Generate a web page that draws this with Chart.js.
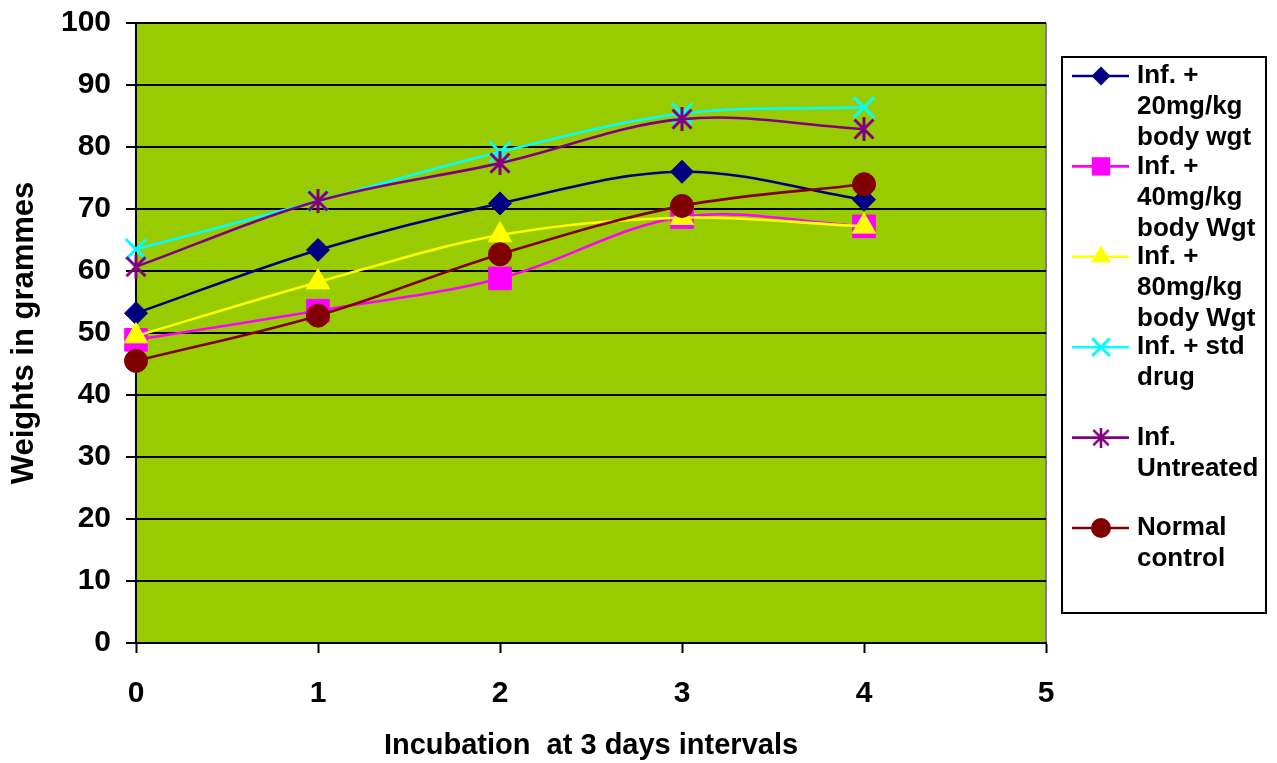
<!DOCTYPE html>
<html>
<head>
<meta charset="utf-8">
<script src="https://cdn.jsdelivr.net/npm/chart.js@4/dist/chart.umd.min.js"></script>
<style>
  html, body { margin: 0; padding: 0; background: #ffffff; }
  #wrap { width: 1277px; height: 763px; position: relative; }
</style>
</head>
<body>
<div id="wrap"><canvas id="c" width="1277" height="763"></canvas></div>
<script>
// Incubation periods (3-day intervals)
const periods = [0, 1, 2, 3, 4];

// Body weights (g) for each group
const dose20 = [53.2, 63.4, 70.9, 76.0, 71.5];
const dose40 = [48.9, 53.6, 58.8, 68.7, 67.2];
const dose80 = [49.5, 58.2, 65.8, 68.6, 67.2];
const stdDrug = [63.5, 71.3, 79.2, 85.4, 86.4];
const untreated = [60.7, 71.3, 77.4, 84.5, 82.9];
const normal = [45.5, 52.8, 62.7, 70.5, 74.0];

const seriesLabels = [
  ['Inf. +', '20mg/kg', 'body wgt'],
  ['Inf. +', '40mg/kg', 'body Wgt'],
  ['Inf. +', '80mg/kg', 'body Wgt'],
  ['Inf. + std', 'drug'],
  ['Inf.', 'Untreated'],
  ['Normal', 'control']
];

const yTicks = [0, 10, 20, 30, 40, 50, 60, 70, 80, 90, 100];
const xTicks = [0, 1, 2, 3, 4, 5];

const FONT = '"Liberation Sans", Arial, Helvetica, sans-serif';

// asterisk marker: vertical bar plus an X
function asterisk(size, color, lw) {
  const cv = document.createElement('canvas');
  cv.width = size; cv.height = size;
  const g = cv.getContext('2d');
  g.strokeStyle = color; g.lineWidth = lw;
  const m = lw / 2 + 1, s = size - m, h = size / 2;
  g.beginPath();
  g.moveTo(h, 0); g.lineTo(h, size);
  g.moveTo(m, m); g.lineTo(s, s);
  g.moveTo(m, s); g.lineTo(s, m);
  g.stroke();
  return cv;
}

const star = asterisk(24, '#800080', 3);
const starSmall = asterisk(20, '#800080', 2.6);

const toXY = arr => arr.map((v, i) => ({ x: periods[i], y: v }));

const styles = [
  { data: dose20, color: '#000080', point: 'rectRot', r: 11.5, lr: 9.5 },
  { data: dose40, color: '#FF00FF', point: 'rect', r: 16, lr: 13 },
  { data: dose80, color: '#FFFF00', point: 'triangle', r: 13.5, lr: 11.5 },
  { data: stdDrug, color: '#00FFFF', point: 'crossRot', r: 14.5, lr: 12.5, bw: 3 },
  { data: untreated, color: '#800080', point: star, r: 12, lr: 10, legendImg: starSmall },
  { data: normal, color: '#800000', point: 'circle', r: 11.5, lr: 10 }
];

const datasets = styles.map((s, i) => ({
  label: seriesLabels[i].join(' '),
  data: toXY(s.data),
  borderColor: s.color,
  backgroundColor: s.color,
  borderWidth: 2.6,
  tension: 0.35,
  clip: false,
  pointStyle: s.point,
  pointRadius: s.r,
  pointHoverRadius: s.r,
  pointBorderWidth: s.bw || 1,
  pointBorderColor: s.color,
  pointBackgroundColor: s.color,
  order: styles.length - i
}));

// draw one legend marker
function legendMarker(ctx, s, x, y) {
  ctx.save();
  ctx.fillStyle = s.color;
  ctx.strokeStyle = s.color;
  const r = s.lr;
  ctx.beginPath();
  if (s.point === 'rectRot') {
    ctx.moveTo(x, y - r); ctx.lineTo(x + r, y); ctx.lineTo(x, y + r); ctx.lineTo(x - r, y);
    ctx.closePath(); ctx.fill();
  } else if (s.point === 'rect') {
    const h = r * Math.SQRT1_2;
    ctx.rect(x - h, y - h, 2 * h, 2 * h); ctx.fill();
  } else if (s.point === 'triangle') {
    ctx.moveTo(x, y - r);
    ctx.lineTo(x + r * Math.sin(Math.PI / 3), y + r / 2);
    ctx.lineTo(x - r * Math.sin(Math.PI / 3), y + r / 2);
    ctx.closePath(); ctx.fill();
  } else if (s.point === 'crossRot') {
    const d = r * Math.SQRT1_2;
    ctx.lineWidth = 3;
    ctx.moveTo(x - d, y - d); ctx.lineTo(x + d, y + d);
    ctx.moveTo(x - d, y + d); ctx.lineTo(x + d, y - d);
    ctx.stroke();
  } else if (s.point === 'circle') {
    ctx.arc(x, y, r, 0, Math.PI * 2); ctx.fill();
  } else if (s.legendImg) {
    ctx.drawImage(s.legendImg, x - s.legendImg.width / 2, y - s.legendImg.height / 2);
  }
  ctx.restore();
}

const plotDecor = {
  id: 'plotDecor',
  beforeDraw(chart) {
    const { ctx, chartArea: a } = chart;
    ctx.save();
    ctx.fillStyle = '#99CC00';
    ctx.fillRect(a.left, a.top, a.right - a.left, a.bottom - a.top);
    ctx.strokeStyle = '#808080';
    ctx.lineWidth = 2;
    ctx.beginPath();
    ctx.moveTo(a.right, a.top); ctx.lineTo(a.right, a.bottom);
    ctx.stroke();
    ctx.restore();
  },
  afterDraw(chart) {
    const ctx = chart.ctx;
    ctx.save();
    // legend frame
    ctx.strokeStyle = '#000000';
    ctx.lineWidth = 2;
    ctx.strokeRect(1062, 57, 204, 556);
    ctx.font = 'bold 26px ' + FONT;
    ctx.textBaseline = 'middle';
    ctx.fillStyle = '#000000';
    styles.forEach((s, i) => {
      const y0 = 76 + i * 90.4;
      ctx.strokeStyle = s.color;
      ctx.lineWidth = 2.6;
      ctx.beginPath();
      ctx.moveTo(1072, y0); ctx.lineTo(1129, y0);
      ctx.stroke();
      legendMarker(ctx, s, 1101, y0);
      seriesLabels[i].forEach((line, j) => {
        ctx.fillText(line, 1137, y0 + j * 31);
      });
    });
    ctx.restore();
  }
};

new Chart(document.getElementById('c'), {
  type: 'line',
  data: { datasets },
  plugins: [plotDecor],
  options: {
    responsive: false,
    animation: false,
    events: [],
    layout: { padding: { top: 23, right: 231, left: 0, bottom: 0 } },
    plugins: { legend: { display: false }, tooltip: { enabled: false } },
    scales: {
      x: {
        type: 'linear',
        min: 0, max: 5,
        afterBuildTicks: sc => { sc.ticks = xTicks.map(v => ({ value: v })); },
        afterFit: sc => { sc.height = 120; sc.paddingLeft = 0; sc.paddingRight = 0; },
        grid: { drawOnChartArea: false, drawTicks: true, tickLength: 10, tickColor: '#000000', tickWidth: 2 },
        border: { display: true, color: '#000000', width: 2 },
        ticks: { color: '#000000', padding: 23, font: { family: FONT, size: 30, weight: 'bold' } },
        title: {
          display: true,
          text: 'Incubation  at 3 days intervals',
          color: '#000000',
          font: { family: FONT, size: 29, weight: 'bold' },
          padding: { top: 0, bottom: 0 }
        }
      },
      y: {
        min: 0, max: 100,
        afterBuildTicks: sc => { sc.ticks = yTicks.map(v => ({ value: v })); },
        afterFit: sc => { sc.width = 136; sc.paddingTop = 0; sc.paddingBottom = 0; },
        grid: { color: '#000000', lineWidth: 2, drawTicks: true, tickLength: 10, tickColor: '#000000', tickWidth: 2 },
        border: { display: true, color: '#000000', width: 2 },
        ticks: { color: '#000000', padding: 15, font: { family: FONT, size: 30, weight: 'bold' } },
        title: {
          display: true,
          text: 'Weights in grammes',
          color: '#000000',
          font: { family: FONT, size: 31, weight: 'bold' },
          padding: { top: 6, bottom: 0 }
        }
      }
    }
  }
});
</script>
</body>
</html>
